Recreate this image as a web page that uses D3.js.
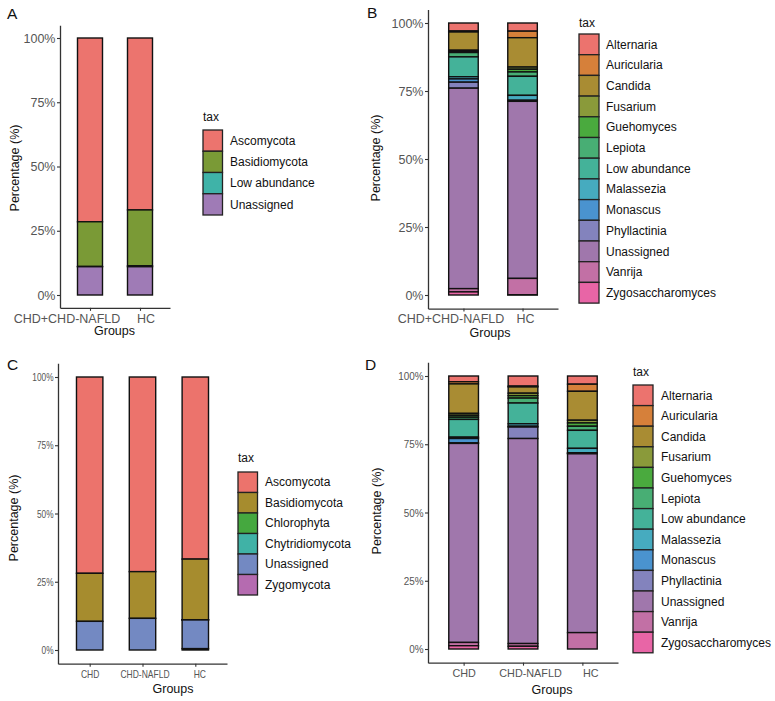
<!DOCTYPE html>
<html><head><meta charset="utf-8">
<script src="https://cdn.jsdelivr.net/npm/d3@7"></script>
<style>
body{margin:0;background:#fff}
svg{display:block;font-family:"Liberation Sans",Arial,sans-serif}
</style>
</head><body>
<svg id="chart" width="775" height="701"></svg>
<script>
// ---------- data ----------
const groupsAB = ["CHD+CHD-NAFLD", "HC"];
const groupsCD = ["CHD", "CHD-NAFLD", "HC"];
const pctTicks = [0, 25, 50, 75, 100];

// Panel A (phylum, two groups)
const phylaA = ["Ascomycota", "Basidiomycota", "Low abundance", "Unassigned"];
const phylaAColors = ["#EC746E", "#7A9A36", "#3FB3A8", "#9F7BB6"];
const phylaA_CHDall = [71.5, 17.4, 0.1, 11.0];
const phylaA_HC = [66.9, 21.7, 0.4, 11.0];

// Panel B / D (genus)
const genera = ["Alternaria", "Auricularia", "Candida", "Fusarium", "Guehomyces", "Lepiota",
  "Low abundance", "Malassezia", "Monascus", "Phyllactinia", "Unassigned", "Vanrija", "Zygosaccharomyces"];
const generaColors = ["#EC736E", "#D6803A", "#A98C33", "#8A9A3A", "#4AAA3E", "#48AE74",
  "#44B299", "#46ABBF", "#4A93CF", "#8383BD", "#A077AC", "#C270A5", "#E865A6"];
const generaB_CHDall = [2.94, 0.37, 6.7, 0.45, 0.4, 1.6, 7.3, 0.8, 1.2, 2.2, 73.7, 1.2, 1.14];
const generaB_HC = [3.0, 2.4, 10.8, 0.8, 1.0, 1.6, 7.0, 1.8, 0.2, 0.2, 65.1, 6.0, 0.1];

// Panel C (phylum, three groups)
const phylaC = ["Ascomycota", "Basidiomycota", "Chlorophyta", "Chytridiomycota", "Unassigned", "Zygomycota"];
const phylaCColors = ["#EC736C", "#A68C2E", "#45A83F", "#40B2A6", "#7389C2", "#B56BB0"];
const phylaC_CHD = [71.9, 17.6, 0.0, 0.0, 10.5, 0.0];
const phylaC_CHDNAFLD = [71.3, 17.1, 0.0, 0.0, 11.6, 0.0];
const phylaC_HC = [66.7, 22.2, 0.05, 0.05, 10.5, 0.5];

// Panel D (genus, three groups)
const generaD_CHD = [2.1, 0.8, 10.8, 0.7, 0.7, 0.8, 6.5, 0.5, 1.6, 0.2, 72.9, 1.2, 1.2];
const generaD_CHDNAFLD = [3.7, 0.3, 2.3, 0.9, 0.9, 1.8, 7.6, 0.9, 0.3, 4.2, 75.1, 1.0, 1.0];
const generaD_HC = [3.0, 2.6, 10.6, 1.0, 1.2, 1.5, 6.6, 1.6, 0.2, 0.2, 65.5, 6.0, 0.0];

// ---------- drawing ----------
const svg = d3.select("#chart");

function squeeze(sel, sx) {
  if (sx === 1) return;
  sel.each(function () {
    const w = this.getComputedTextLength();
    d3.select(this).attr("textLength", w * sx).attr("lengthAdjust", "spacingAndGlyphs");
  });
}

function panel(cfg) {
  const g = svg.append("g");
  const y = d3.scaleLinear().domain([-5, 105])
    .range([cfg.y0 + (cfg.y0 - cfg.y100) * 0.05, cfg.y100 - (cfg.y0 - cfg.y100) * 0.05]);
  const x = d3.scalePoint().domain(cfg.groups).range([cfg.xl, cfg.xr]).padding(0.6);
  const bw = x.step() * 0.5;
  const color = d3.scaleOrdinal().domain(cfg.tax).range(cfg.colors);

  const rows = cfg.groups.map((gn, i) => {
    const o = { group: gn };
    cfg.tax.forEach((t, j) => o[t] = cfg.values[i][j]);
    return o;
  });
  const series = d3.stack().keys(cfg.tax).order(d3.stackOrderReverse)(rows);

  // bars
  g.append("g").selectAll("g").data(series).join("g")
    .attr("fill", d => color(d.key))
    .selectAll("rect").data(d => d).join("rect")
    .attr("x", d => x(d.data.group) - bw / 2)
    .attr("width", bw)
    .attr("y", d => y(d[1]))
    .attr("height", d => Math.max(0, y(d[0]) - y(d[1])))
    .attr("stroke", "#111").attr("stroke-width", 1.4);

  // y axis
  const ya = g.append("g").attr("transform", `translate(${cfg.xl},0)`)
    .call(d3.axisLeft(y).tickValues(pctTicks).tickFormat(d => d + "%")
      .tickSizeInner(3).tickSizeOuter(0).tickPadding(1.5));
  ya.select(".domain").attr("stroke", "#333").attr("stroke-width", 1.3);
  ya.selectAll(".tick line").attr("stroke", "#333").attr("stroke-width", 1.1);
  const yt = ya.selectAll(".tick text").attr("fill", "#555").attr("font-size", cfg.tickFs)
    .attr("font-family", "Liberation Sans, Arial, sans-serif");
  squeeze(yt, cfg.tickSx);

  // x axis
  const xa = g.append("g").attr("transform", `translate(0,${y(-5)})`)
    .call(d3.axisBottom(x).tickSizeInner(3).tickSizeOuter(0).tickPadding(cfg.xPad));
  xa.select(".domain").attr("stroke", "#333").attr("stroke-width", 1.3);
  xa.selectAll(".tick line").attr("stroke", "#333").attr("stroke-width", 1.1);
  const xt = xa.selectAll(".tick text").attr("fill", "#555").attr("font-size", cfg.xFs)
    .attr("font-family", "Liberation Sans, Arial, sans-serif")
    .attr("x", (d, i) => cfg.xDx[i]);
  squeeze(xt, cfg.xSx);

  // titles
  g.append("text").attr("x", cfg.groupsX).attr("y", cfg.groupsY)
    .attr("text-anchor", "middle").attr("font-size", 12.5).attr("fill", "#111").text("Groups");
  g.append("text").attr("transform", `translate(${cfg.ytX},${cfg.ytY}) rotate(-90)`)
    .attr("text-anchor", "middle").attr("font-size", 12.5).attr("fill", "#111").text("Percentage (%)");
  g.append("text").attr("x", cfg.letterX).attr("y", cfg.letterY)
    .attr("font-size", 15.5).attr("fill", "#111").text(cfg.letter);

  // legend
  const L = cfg.legend;
  const lg = g.append("g");
  lg.append("text").attr("x", L.x).attr("y", L.taxY).attr("font-size", 12).attr("fill", "#111").text("tax");
  const items = lg.selectAll("g.item").data(cfg.tax).join("g").attr("class", "item")
    .attr("transform", (d, i) => `translate(${L.x},${L.top + i * L.h})`);
  items.append("rect").attr("x", 0).attr("y", 0).attr("width", L.w).attr("height", L.h)
    .attr("fill", d => color(d)).attr("stroke", "#222").attr("stroke-width", 1.3);
  items.append("text").attr("x", L.labelX - L.x).attr("y", L.h / 2).attr("dy", "0.35em")
    .attr("font-size", 12).attr("fill", "#111").text(d => d);
}

panel({
  groups: groupsAB, tax: phylaA, colors: phylaAColors, values: [phylaA_CHDall, phylaA_HC],
  xl: 60, xr: 170, y0: 295, y100: 38,
  tickFs: 12.5, tickSx: 1, xFs: 12.5, xSx: 1, xPad: 3, xDx: [-23.5, 5.5],
  groupsX: 114.5, groupsY: 335, ytX: 18.5, ytY: 168,
  letter: "A", letterX: 7, letterY: 19,
  legend: { x: 203, taxY: 121, top: 130, h: 21.25, w: 19.5, labelX: 230 }
});

panel({
  groups: groupsAB, tax: genera, colors: generaColors, values: [generaB_CHDall, generaB_HC],
  xl: 428, xr: 558, y0: 295, y100: 23,
  tickFs: 12.5, tickSx: 1, xFs: 12.5, xSx: 1, xPad: 3, xDx: [-13, 2.5],
  groupsX: 490, groupsY: 337, ytX: 380, ytY: 158,
  letter: "B", letterX: 367, letterY: 18,
  legend: { x: 579, taxY: 26.5, top: 34, h: 20.7, w: 20, labelX: 606 }
});

panel({
  groups: groupsCD, tax: phylaC, colors: phylaCColors, values: [phylaC_CHD, phylaC_CHDNAFLD, phylaC_HC],
  xl: 58, xr: 227, y0: 650, y100: 377,
  tickFs: 11.5, tickSx: 0.72, xFs: 11.5, xSx: 0.74, xPad: 3, xDx: [0, 2, 4],
  groupsX: 173, groupsY: 693, ytX: 17.5, ytY: 518,
  letter: "C", letterX: 7, letterY: 370,
  legend: { x: 238, taxY: 462, top: 472, h: 20.5, w: 19.5, labelX: 265 }
});

panel({
  groups: groupsCD, tax: genera, colors: generaColors, values: [generaD_CHD, generaD_CHDNAFLD, generaD_HC],
  xl: 428, xr: 618, y0: 649, y100: 376,
  tickFs: 11.5, tickSx: 0.86, xFs: 11.5, xSx: 0.94, xPad: 3, xDx: [0, 7, 8],
  groupsX: 552, groupsY: 694, ytX: 381, ytY: 511,
  letter: "D", letterX: 365, letterY: 370,
  legend: { x: 633, taxY: 376, top: 385, h: 20.6, w: 20, labelX: 661 }
});
</script>
</body></html>
